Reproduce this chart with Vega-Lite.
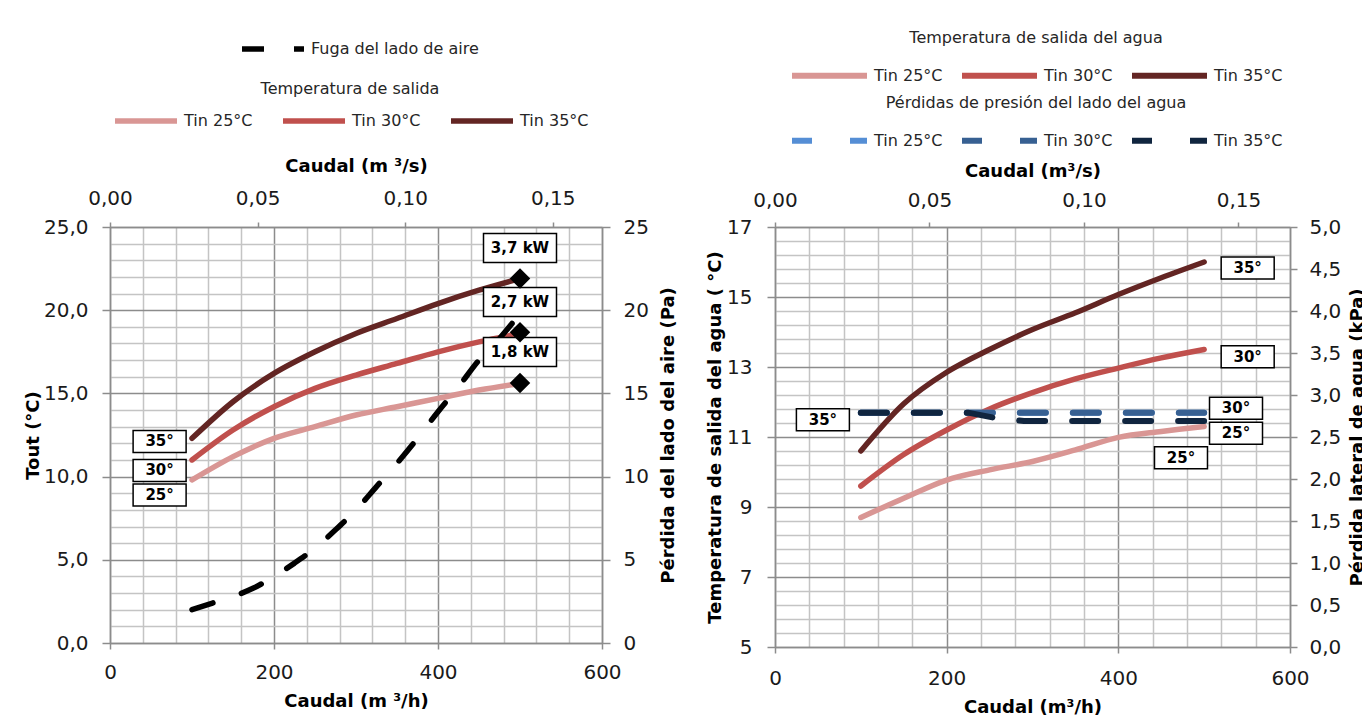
{
  "$schema": "https://vega.github.io/schema/vega-lite/v6.json",
  "padding": {"left": 24, "top": 15, "right": 0, "bottom": 0},
  "background": "white",
  "datasets": {
    "tempL": [
      {"serie": "Tin 25°C", "caudal": 100, "tout": 9.8},
      {"serie": "Tin 25°C", "caudal": 150, "tout": 11.2},
      {"serie": "Tin 25°C", "caudal": 200, "tout": 12.3},
      {"serie": "Tin 25°C", "caudal": 250, "tout": 13.0},
      {"serie": "Tin 25°C", "caudal": 300, "tout": 13.7},
      {"serie": "Tin 25°C", "caudal": 350, "tout": 14.2},
      {"serie": "Tin 25°C", "caudal": 400, "tout": 14.7},
      {"serie": "Tin 25°C", "caudal": 450, "tout": 15.2},
      {"serie": "Tin 25°C", "caudal": 500, "tout": 15.6},
      {"serie": "Tin 30°C", "caudal": 100, "tout": 11.0},
      {"serie": "Tin 30°C", "caudal": 150, "tout": 12.8},
      {"serie": "Tin 30°C", "caudal": 200, "tout": 14.2},
      {"serie": "Tin 30°C", "caudal": 250, "tout": 15.3},
      {"serie": "Tin 30°C", "caudal": 300, "tout": 16.1},
      {"serie": "Tin 30°C", "caudal": 350, "tout": 16.8},
      {"serie": "Tin 30°C", "caudal": 400, "tout": 17.5},
      {"serie": "Tin 30°C", "caudal": 450, "tout": 18.1},
      {"serie": "Tin 30°C", "caudal": 500, "tout": 18.6},
      {"serie": "Tin 35°C", "caudal": 100, "tout": 12.3},
      {"serie": "Tin 35°C", "caudal": 150, "tout": 14.5},
      {"serie": "Tin 35°C", "caudal": 200, "tout": 16.2},
      {"serie": "Tin 35°C", "caudal": 250, "tout": 17.5},
      {"serie": "Tin 35°C", "caudal": 300, "tout": 18.6},
      {"serie": "Tin 35°C", "caudal": 350, "tout": 19.5},
      {"serie": "Tin 35°C", "caudal": 400, "tout": 20.4},
      {"serie": "Tin 35°C", "caudal": 450, "tout": 21.2},
      {"serie": "Tin 35°C", "caudal": 500, "tout": 21.9}
    ],
    "fuga": [
      {"serie": "Fuga del lado de aire", "caudal": 100, "pa": 2.0},
      {"serie": "Fuga del lado de aire", "caudal": 125, "pa": 2.4},
      {"serie": "Fuga del lado de aire", "caudal": 150, "pa": 2.8},
      {"serie": "Fuga del lado de aire", "caudal": 175, "pa": 3.3},
      {"serie": "Fuga del lado de aire", "caudal": 200, "pa": 4.0},
      {"serie": "Fuga del lado de aire", "caudal": 225, "pa": 4.8},
      {"serie": "Fuga del lado de aire", "caudal": 250, "pa": 5.7},
      {"serie": "Fuga del lado de aire", "caudal": 275, "pa": 6.8},
      {"serie": "Fuga del lado de aire", "caudal": 300, "pa": 8.0},
      {"serie": "Fuga del lado de aire", "caudal": 325, "pa": 9.4},
      {"serie": "Fuga del lado de aire", "caudal": 350, "pa": 10.8},
      {"serie": "Fuga del lado de aire", "caudal": 375, "pa": 12.3},
      {"serie": "Fuga del lado de aire", "caudal": 400, "pa": 13.9},
      {"serie": "Fuga del lado de aire", "caudal": 425, "pa": 15.4},
      {"serie": "Fuga del lado de aire", "caudal": 450, "pa": 17.0},
      {"serie": "Fuga del lado de aire", "caudal": 475, "pa": 18.3},
      {"serie": "Fuga del lado de aire", "caudal": 500, "pa": 19.8}
    ],
    "marcadores": [
      {"caudal": 500, "tout": 21.9},
      {"caudal": 500, "tout": 18.67},
      {"caudal": 500, "tout": 15.62}
    ],
    "etiquetasL": [
      {"etiqueta": "35°", "caudal": 60.5, "tout": 12.11, "tipo": "grado"},
      {"etiqueta": "30°", "caudal": 60.5, "tout": 10.37, "tipo": "grado"},
      {"etiqueta": "25°", "caudal": 60.5, "tout": 8.89, "tipo": "grado"},
      {"etiqueta": "3,7 kW", "caudal": 500, "tout": 23.74, "tipo": "kw"},
      {"etiqueta": "2,7 kW", "caudal": 500, "tout": 20.49, "tipo": "kw"},
      {"etiqueta": "1,8 kW", "caudal": 500, "tout": 17.49, "tipo": "kw"}
    ],
    "tempR": [
      {"serie": "Tin 25°C", "caudal": 100, "tout": 8.7},
      {"serie": "Tin 25°C", "caudal": 150, "tout": 9.25},
      {"serie": "Tin 25°C", "caudal": 200, "tout": 9.77},
      {"serie": "Tin 25°C", "caudal": 250, "tout": 10.06},
      {"serie": "Tin 25°C", "caudal": 300, "tout": 10.3},
      {"serie": "Tin 25°C", "caudal": 350, "tout": 10.63},
      {"serie": "Tin 25°C", "caudal": 400, "tout": 10.99},
      {"serie": "Tin 25°C", "caudal": 450, "tout": 11.16},
      {"serie": "Tin 25°C", "caudal": 500, "tout": 11.3},
      {"serie": "Tin 30°C", "caudal": 100, "tout": 9.6},
      {"serie": "Tin 30°C", "caudal": 150, "tout": 10.5},
      {"serie": "Tin 30°C", "caudal": 200, "tout": 11.2},
      {"serie": "Tin 30°C", "caudal": 250, "tout": 11.8},
      {"serie": "Tin 30°C", "caudal": 300, "tout": 12.27},
      {"serie": "Tin 30°C", "caudal": 350, "tout": 12.66},
      {"serie": "Tin 30°C", "caudal": 400, "tout": 12.97},
      {"serie": "Tin 30°C", "caudal": 450, "tout": 13.26},
      {"serie": "Tin 30°C", "caudal": 500, "tout": 13.5},
      {"serie": "Tin 35°C", "caudal": 100, "tout": 10.6},
      {"serie": "Tin 35°C", "caudal": 150, "tout": 11.95},
      {"serie": "Tin 35°C", "caudal": 200, "tout": 12.85},
      {"serie": "Tin 35°C", "caudal": 250, "tout": 13.5},
      {"serie": "Tin 35°C", "caudal": 300, "tout": 14.07},
      {"serie": "Tin 35°C", "caudal": 350, "tout": 14.55},
      {"serie": "Tin 35°C", "caudal": 400, "tout": 15.07},
      {"serie": "Tin 35°C", "caudal": 450, "tout": 15.55},
      {"serie": "Tin 35°C", "caudal": 500, "tout": 16.0}
    ],
    "presionR": [
      {"serie": "Tin 25°C", "caudal": 100, "kpa": 2.79},
      {"serie": "Tin 25°C", "caudal": 200, "kpa": 2.79},
      {"serie": "Tin 25°C", "caudal": 300, "kpa": 2.79},
      {"serie": "Tin 25°C", "caudal": 400, "kpa": 2.79},
      {"serie": "Tin 25°C", "caudal": 500, "kpa": 2.79},
      {"serie": "Tin 30°C", "caudal": 100, "kpa": 2.79},
      {"serie": "Tin 30°C", "caudal": 200, "kpa": 2.79},
      {"serie": "Tin 30°C", "caudal": 300, "kpa": 2.79},
      {"serie": "Tin 30°C", "caudal": 400, "kpa": 2.79},
      {"serie": "Tin 30°C", "caudal": 500, "kpa": 2.79},
      {"serie": "Tin 35°C", "caudal": 100, "kpa": 2.79},
      {"serie": "Tin 35°C", "caudal": 150, "kpa": 2.79},
      {"serie": "Tin 35°C", "caudal": 200, "kpa": 2.79},
      {"serie": "Tin 35°C", "caudal": 225, "kpa": 2.79},
      {"serie": "Tin 35°C", "caudal": 260, "kpa": 2.72},
      {"serie": "Tin 35°C", "caudal": 290, "kpa": 2.69},
      {"serie": "Tin 35°C", "caudal": 350, "kpa": 2.69},
      {"serie": "Tin 35°C", "caudal": 400, "kpa": 2.69},
      {"serie": "Tin 35°C", "caudal": 450, "kpa": 2.69},
      {"serie": "Tin 35°C", "caudal": 500, "kpa": 2.69}
    ],
    "etiquetasR": [
      {"etiqueta": "35°", "caudal": 550.7, "tout": 15.83},
      {"etiqueta": "30°", "caudal": 550.7, "tout": 13.29},
      {"etiqueta": "30°", "caudal": 537.1, "tout": 11.82},
      {"etiqueta": "25°", "caudal": 537.1, "tout": 11.11},
      {"etiqueta": "25°", "caudal": 473, "tout": 10.41},
      {"etiqueta": "35°", "caudal": 55.8, "tout": 11.49}
    ]
  },
  "hconcat": [
    {
      "width": 492,
      "height": 416,
      "layer": [
        {
          "data": {"name": "tempL"},
          "mark": {"type": "line", "strokeWidth": 5.5, "interpolate": "monotone", "strokeCap": "round"},
          "encoding": {
            "x": {
              "field": "caudal", "type": "quantitative",
              "scale": {"domain": [0, 600], "nice": false, "zero": false},
              "axis": {
                "orient": "bottom",
                "values": [0, 40, 80, 120, 160, 200, 240, 280, 320, 360, 400, 440, 480, 520, 560, 600],
                "labelExpr": "datum.value % 200 === 0 ? datum.label : ''",
                "grid": true,
                "gridColor": {"condition": {"test": "datum.value % 200 === 0", "value": "#8c8c8c"}, "value": "#c4c4c4"},
                "gridWidth": 1.5,
                "tickSize": 6,
                "tickOpacity": {"condition": {"test": "datum.value % 200 === 0", "value": 1}, "value": 0},
                "labelPadding": 13,
                "title": "Caudal (m ³/h)",
                "titlePadding": 10
              }
            },
            "y": {
              "field": "tout", "type": "quantitative",
              "scale": {"domain": [0, 25], "nice": false, "zero": false},
              "axis": {
                "orient": "left",
                "values": [0, 1, 2, 3, 4, 5, 6, 7, 8, 9, 10, 11, 12, 13, 14, 15, 16, 17, 18, 19, 20, 21, 22, 23, 24, 25],
                "labelExpr": "datum.value % 5 === 0 ? replace(format(datum.value, '.1f'), '.', ',') : ''",
                "grid": true,
                "gridColor": {"condition": {"test": "datum.value % 5 === 0", "value": "#8c8c8c"}, "value": "#c4c4c4"},
                "gridWidth": 1.5,
                "tickSize": 8,
                "tickOpacity": {"condition": {"test": "datum.value % 5 === 0", "value": 1}, "value": 0},
                "labelPadding": 14,
                "title": "Tout (°C)",
                "titlePadding": 1
              }
            },
            "color": {
              "field": "serie", "type": "nominal",
              "scale": {"domain": ["Tin 25°C", "Tin 30°C", "Tin 35°C"], "range": ["#D99694", "#C0504D", "#632523"]},
              "legend": {
                "title": "Temperatura de salida",
                "orient": "none", "legendX": 2, "legendY": -146,
                "direction": "horizontal",
                "titleAnchor": "middle", "titleAlign": "center", "titlePadding": -10,
                "symbolType": "stroke", "symbolSize": 3844, "symbolStrokeWidth": 5.5,
                "columnPadding": 19, "labelOffset": 4
              }
            }
          }
        },
        {
          "data": {"name": "fuga"},
          "mark": {"type": "line", "strokeWidth": 5.5, "color": "black", "strokeCap": "round", "interpolate": "monotone"},
          "encoding": {
            "x": {"field": "caudal", "type": "quantitative", "scale": {"domain": [0, 600], "nice": false, "zero": false}, "axis": null},
            "y": {
              "field": "pa", "type": "quantitative",
              "scale": {"domain": [0, 25], "nice": false, "zero": false},
              "axis": {
                "orient": "right",
                "values": [0, 5, 10, 15, 20, 25],
                "grid": false,
                "tickSize": 8,
                "labelPadding": 13,
                "title": "Pérdida del lado del aire (Pa)",
                "titleAngle": 270,
                "titleBaseline": "top",
                "titlePadding": 11
              }
            },
            "strokeDash": {
              "field": "serie", "type": "nominal",
              "scale": {"domain": ["Fuga del lado de aire"], "range": [[22, 30]]},
              "legend": {
                "title": null,
                "orient": "none", "legendX": 129, "legendY": -212,
                "symbolType": "stroke", "symbolSize": 3844, "symbolStrokeWidth": 5.5, "symbolStrokeColor": "black",
                "labelOffset": 4
              }
            }
          }
        },
        {
          "data": {"name": "etiquetasL"},
          "transform": [{"filter": "datum.tipo === 'grado'"}],
          "mark": {"type": "point", "shape": "M-1,-0.415L1,-0.415L1,0.415L-1,0.415Z", "size": 2809, "filled": true, "fill": "white", "stroke": "black", "strokeWidth": 1.5, "opacity": 1},
          "encoding": {
            "x": {"field": "caudal", "type": "quantitative", "scale": {"domain": [0, 600], "nice": false, "zero": false}, "axis": null},
            "y": {"field": "tout", "type": "quantitative", "scale": {"domain": [0, 25], "nice": false, "zero": false}, "axis": null}
          }
        },
        {
          "data": {"name": "etiquetasL"},
          "transform": [{"filter": "datum.tipo === 'kw'"}],
          "mark": {"type": "point", "shape": "M-1,-0.397L1,-0.397L1,0.397L-1,0.397Z", "size": 5329, "filled": true, "fill": "white", "stroke": "black", "strokeWidth": 1.5, "opacity": 1},
          "encoding": {
            "x": {"field": "caudal", "type": "quantitative", "scale": {"domain": [0, 600], "nice": false, "zero": false}, "axis": null},
            "y": {"field": "tout", "type": "quantitative", "scale": {"domain": [0, 25], "nice": false, "zero": false}, "axis": null}
          }
        },
        {
          "data": {"name": "etiquetasL"},
          "mark": {"type": "text", "font": "DejaVu Sans", "fontWeight": "bold", "fontSize": 15, "align": "center", "baseline": "middle", "color": "black"},
          "encoding": {
            "x": {"field": "caudal", "type": "quantitative", "scale": {"domain": [0, 600], "nice": false, "zero": false}, "axis": null},
            "y": {"field": "tout", "type": "quantitative", "scale": {"domain": [0, 25], "nice": false, "zero": false}, "axis": null},
            "text": {"field": "etiqueta"}
          }
        },
        {
          "data": {"name": "marcadores"},
          "mark": {"type": "point", "shape": "diamond", "size": 420, "filled": true, "color": "black", "opacity": 1},
          "encoding": {
            "x": {"field": "caudal", "type": "quantitative", "scale": {"domain": [0, 600], "nice": false, "zero": false}, "axis": null},
            "y": {"field": "tout", "type": "quantitative", "scale": {"domain": [0, 25], "nice": false, "zero": false}, "axis": null}
          }
        },
        {
          "data": {"values": [{}]},
          "mark": {"type": "point", "opacity": 0},
          "encoding": {
            "x": {
              "datum": 0, "type": "quantitative",
              "scale": {"domain": [0, 0.1666667], "nice": false, "zero": false},
              "axis": {
                "orient": "top",
                "values": [0, 0.05, 0.1, 0.15],
                "labelExpr": "replace(format(datum.value, '.2f'), '.', ',')",
                "grid": false,
                "tickSize": 5,
                "labelPadding": 14,
                "title": "Caudal (m ³/s)",
                "titlePadding": 13
              }
            },
            "y": {"datum": 0, "type": "quantitative", "scale": {"domain": [0, 25], "nice": false, "zero": false}, "axis": null}
          }
        }
      ],
      "resolve": {"scale": {"x": "independent", "y": "independent", "color": "independent", "strokeDash": "independent"}}
    },
    {
      "width": 515,
      "height": 420,
      "layer": [
        {
          "data": {"name": "tempR"},
          "mark": {"type": "line", "strokeWidth": 5.5, "interpolate": "monotone", "strokeCap": "round"},
          "encoding": {
            "x": {
              "field": "caudal", "type": "quantitative",
              "scale": {"domain": [0, 600], "nice": false, "zero": false},
              "axis": {
                "orient": "bottom",
                "values": [0, 40, 80, 120, 160, 200, 240, 280, 320, 360, 400, 440, 480, 520, 560, 600],
                "labelExpr": "datum.value % 200 === 0 ? datum.label : ''",
                "grid": true,
                "gridColor": {"condition": {"test": "datum.value % 200 === 0", "value": "#8c8c8c"}, "value": "#c4c4c4"},
                "gridWidth": 1.5,
                "tickSize": 6,
                "tickOpacity": {"condition": {"test": "datum.value % 200 === 0", "value": 1}, "value": 0},
                "labelPadding": 15,
                "title": "Caudal (m³/h)",
                "titlePadding": 10
              }
            },
            "y": {
              "field": "tout", "type": "quantitative",
              "scale": {"domain": [5, 17], "nice": false, "zero": false},
              "axis": {
                "orient": "left",
                "values": [5, 5.4, 5.8, 6.2, 6.6, 7, 7.4, 7.8, 8.2, 8.6, 9, 9.4, 9.8, 10.2, 10.6, 11, 11.4, 11.8, 12.2, 12.6, 13, 13.4, 13.8, 14.2, 14.6, 15, 15.4, 15.8, 16.2, 16.6, 17],
                "labelExpr": "indexof([5, 7, 9, 11, 13, 15, 17], datum.value) >= 0 ? format(datum.value, '.0f') : ''",
                "grid": true,
                "gridColor": {"condition": {"test": "indexof([5, 7, 9, 11, 13, 15, 17], datum.value) >= 0", "value": "#8c8c8c"}, "value": "#c4c4c4"},
                "gridWidth": 1.5,
                "tickSize": 8,
                "tickOpacity": {"condition": {"test": "indexof([5, 7, 9, 11, 13, 15, 17], datum.value) >= 0", "value": 1}, "value": 0},
                "labelPadding": 15,
                "title": "Temperatura de salida del agua ( °C)",
                "titlePadding": 2
              }
            },
            "color": {
              "field": "serie", "type": "nominal",
              "scale": {"domain": ["Tin 25°C", "Tin 30°C", "Tin 35°C"], "range": ["#D99694", "#C0504D", "#632523"]},
              "legend": {
                "title": "Temperatura de salida del agua",
                "orient": "none", "legendX": 14, "legendY": -197,
                "direction": "horizontal",
                "titleAnchor": "middle", "titleAlign": "center", "titlePadding": -11,
                "symbolType": "stroke", "symbolSize": 5625, "symbolStrokeWidth": 6,
                "columnPadding": 7, "labelOffset": 4
              }
            }
          }
        },
        {
          "data": {"name": "presionR"},
          "mark": {"type": "line", "strokeWidth": 6, "strokeDash": [26, 27], "strokeCap": "round"},
          "encoding": {
            "x": {"field": "caudal", "type": "quantitative", "scale": {"domain": [0, 600], "nice": false, "zero": false}, "axis": null},
            "y": {
              "field": "kpa", "type": "quantitative",
              "scale": {"domain": [0, 5], "nice": false, "zero": false},
              "axis": {
                "orient": "right",
                "values": [0, 0.5, 1, 1.5, 2, 2.5, 3, 3.5, 4, 4.5, 5],
                "labelExpr": "replace(format(datum.value, '.1f'), '.', ',')",
                "grid": false,
                "tickSize": 7,
                "labelPadding": 12,
                "title": "Pérdida lateral de agua (kPa)",
                "titleAngle": 270,
                "titleBaseline": "top",
                "titlePadding": 8
              }
            },
            "color": {
              "field": "serie", "type": "nominal",
              "scale": {"domain": ["Tin 25°C", "Tin 30°C", "Tin 35°C"], "range": ["#558ED5", "#376092", "#10253F"]},
              "legend": {
                "title": "Pérdidas de presión del lado del agua",
                "orient": "none", "legendX": 14, "legendY": -132,
                "direction": "horizontal",
                "titleAnchor": "middle", "titleAlign": "center", "titlePadding": -11,
                "symbolType": "stroke", "symbolSize": 5625, "symbolStrokeWidth": 6, "symbolDash": [20, 38],
                "columnPadding": 7, "labelOffset": 4
              }
            }
          }
        },
        {
          "data": {"name": "etiquetasR"},
          "mark": {"type": "point", "shape": "M-1,-0.415L1,-0.415L1,0.415L-1,0.415Z", "size": 2809, "filled": true, "fill": "white", "stroke": "black", "strokeWidth": 1.5, "opacity": 1},
          "encoding": {
            "x": {"field": "caudal", "type": "quantitative", "scale": {"domain": [0, 600], "nice": false, "zero": false}, "axis": null},
            "y": {"field": "tout", "type": "quantitative", "scale": {"domain": [5, 17], "nice": false, "zero": false}, "axis": null}
          }
        },
        {
          "data": {"name": "etiquetasR"},
          "mark": {"type": "text", "font": "DejaVu Sans", "fontWeight": "bold", "fontSize": 15, "align": "center", "baseline": "middle", "color": "black"},
          "encoding": {
            "x": {"field": "caudal", "type": "quantitative", "scale": {"domain": [0, 600], "nice": false, "zero": false}, "axis": null},
            "y": {"field": "tout", "type": "quantitative", "scale": {"domain": [5, 17], "nice": false, "zero": false}, "axis": null},
            "text": {"field": "etiqueta"}
          }
        },
        {
          "data": {"values": [{}]},
          "mark": {"type": "point", "opacity": 0},
          "encoding": {
            "x": {
              "datum": 0, "type": "quantitative",
              "scale": {"domain": [0, 0.1666667], "nice": false, "zero": false},
              "axis": {
                "orient": "top",
                "values": [0, 0.05, 0.1, 0.15],
                "labelExpr": "replace(format(datum.value, '.2f'), '.', ',')",
                "grid": false,
                "tickSize": 5,
                "labelPadding": 12,
                "title": "Caudal (m³/s)",
                "titlePadding": 10
              }
            },
            "y": {"datum": 5, "type": "quantitative", "scale": {"domain": [5, 17], "nice": false, "zero": false}, "axis": null}
          }
        }
      ],
      "resolve": {"scale": {"x": "independent", "y": "independent", "color": "independent"}}
    }
  ],
  "spacing": 173,
  "bounds": "flush",
  "resolve": {"scale": {"x": "independent", "y": "independent", "color": "independent", "strokeDash": "independent"}},
  "config": {
    "font": "DejaVu Sans",
    "view": {"stroke": null},
    "axis": {
      "labelFont": "DejaVu Sans", "labelFontSize": 20, "labelColor": "#1a1a1a",
      "titleFont": "DejaVu Sans", "titleFontSize": 18, "titleFontWeight": "bold", "titleColor": "#000000",
      "domainColor": "#8c8c8c", "domainWidth": 1.5,
      "tickColor": "#8c8c8c", "tickWidth": 1.5,
      "labelOverlap": false, "labelFlush": false, "labelBound": false
    },
    "legend": {
      "labelFont": "DejaVu Sans", "labelFontSize": 16, "labelColor": "#262626",
      "titleFont": "DejaVu Sans", "titleFontSize": 16, "titleFontWeight": "normal", "titleColor": "#262626",
      "padding": 0, "symbolOpacity": 1, "titleLimit": 800, "labelLimit": 400
    }
  }
}
